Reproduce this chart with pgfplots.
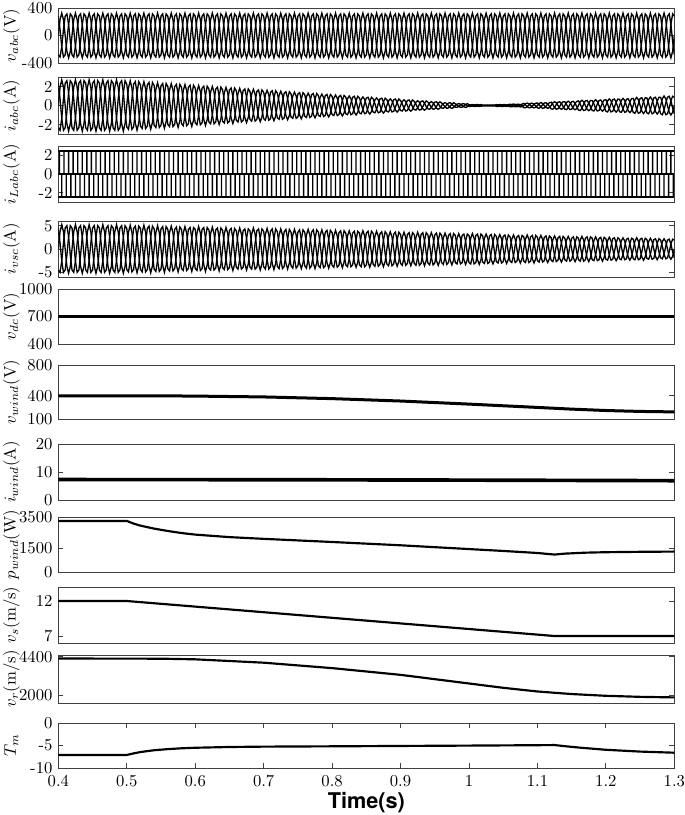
\documentclass[border=0pt]{standalone}
\usepackage{fontspec}
\newfontfamily\heros{TeX Gyre Heros}
\usepackage{pgfplots}
\pgfplotsset{compat=1.18}
\usepackage{pgfplotstable}

\pgfplotstableread{
t va vb vc ia ib ic sa sb sc
0.4 0 -281 281 0 -2.34 2.34 0 -4.5 4.5
0.4025 230 -314 84 1.91 -2.61 0.7 3.7 -5 1.3
0.405 325 -162 -162 2.7 -1.35 -1.35 5.2 -2.6 -2.6
0.4075 230 84 -314 1.91 0.7 -2.61 3.7 1.3 -5
0.41 0 281 -281 0 2.34 -2.34 0 4.5 -4.5
0.4125 -230 314 -84 -1.91 2.61 -0.7 -3.7 5 -1.3
0.415 -325 162 162 -2.7 1.35 1.35 -5.2 2.6 2.6
0.4175 -230 -84 314 -1.91 -0.7 2.61 -3.7 -1.3 5
0.42 0 -281 281 0 -2.34 2.34 0 -4.5 4.5
0.4225 230 -314 84 1.91 -2.61 0.7 3.7 -5 1.3
0.425 325 -162 -162 2.7 -1.35 -1.35 5.2 -2.6 -2.6
0.4275 230 84 -314 1.91 0.7 -2.61 3.7 1.3 -5
0.43 0 281 -281 0 2.34 -2.34 0 4.5 -4.5
0.4325 -230 314 -84 -1.91 2.61 -0.7 -3.7 5 -1.3
0.435 -325 162 162 -2.7 1.35 1.35 -5.2 2.6 2.6
0.4375 -230 -84 314 -1.91 -0.7 2.61 -3.7 -1.3 5
0.44 0 -281 281 0 -2.34 2.34 0 -4.5 4.5
0.4425 230 -314 84 1.91 -2.61 0.7 3.7 -5 1.3
0.445 325 -162 -162 2.7 -1.35 -1.35 5.2 -2.6 -2.6
0.4475 230 84 -314 1.91 0.7 -2.61 3.7 1.3 -5
0.45 0 281 -281 0 2.34 -2.34 0 4.5 -4.5
0.4525 -230 314 -84 -1.91 2.61 -0.7 -3.7 5 -1.3
0.455 -325 162 162 -2.7 1.35 1.35 -5.2 2.6 2.6
0.4575 -230 -84 314 -1.91 -0.7 2.61 -3.7 -1.3 5
0.46 0 -281 281 0 -2.34 2.34 0 -4.5 4.5
0.4625 230 -314 84 1.91 -2.61 0.7 3.7 -5 1.3
0.465 325 -162 -162 2.7 -1.35 -1.35 5.2 -2.6 -2.6
0.4675 230 84 -314 1.91 0.7 -2.61 3.7 1.3 -5
0.47 0 281 -281 0 2.34 -2.34 0 4.5 -4.5
0.4725 -230 314 -84 -1.91 2.61 -0.7 -3.7 5 -1.3
0.475 -325 162 162 -2.7 1.35 1.35 -5.2 2.6 2.6
0.4775 -230 -84 314 -1.91 -0.7 2.61 -3.7 -1.3 5
0.48 0 -281 281 0 -2.34 2.34 0 -4.5 4.5
0.4825 230 -314 84 1.91 -2.61 0.7 3.7 -5 1.3
0.485 325 -162 -162 2.7 -1.35 -1.35 5.2 -2.6 -2.6
0.4875 230 84 -314 1.91 0.7 -2.61 3.7 1.3 -5
0.49 0 281 -281 0 2.34 -2.34 0 4.5 -4.5
0.4925 -230 314 -84 -1.91 2.61 -0.7 -3.7 5 -1.3
0.495 -325 162 162 -2.7 1.35 1.35 -5.2 2.6 2.6
0.4975 -230 -84 314 -1.91 -0.7 2.61 -3.7 -1.3 5
0.5 0 -281 281 0 -2.25 2.25 0 -4.4 4.4
0.5025 230 -314 84 1.84 -2.51 0.67 3.6 -4.9 1.3
0.505 325 -162 -162 2.6 -1.3 -1.3 5.1 -2.6 -2.6
0.5075 230 84 -314 1.84 0.67 -2.51 3.6 1.3 -4.9
0.51 0 281 -281 0 2.25 -2.25 0 4.4 -4.4
0.5125 -230 314 -84 -1.84 2.51 -0.67 -3.6 4.9 -1.3
0.515 -325 162 162 -2.6 1.3 1.3 -5.1 2.6 2.6
0.5175 -230 -84 314 -1.84 -0.67 2.51 -3.6 -1.3 4.9
0.52 0 -281 281 0 -2.17 2.17 0 -4.4 4.4
0.5225 230 -314 84 1.77 -2.42 0.65 3.6 -4.9 1.3
0.525 325 -162 -162 2.5 -1.25 -1.25 5.1 -2.6 -2.6
0.5275 230 84 -314 1.77 0.65 -2.42 3.6 1.3 -4.9
0.53 0 281 -281 0 2.17 -2.17 0 4.4 -4.4
0.5325 -230 314 -84 -1.77 2.42 -0.65 -3.6 4.9 -1.3
0.535 -325 162 162 -2.5 1.25 1.25 -5.1 2.6 2.6
0.5375 -230 -84 314 -1.77 -0.65 2.42 -3.6 -1.3 4.9
0.54 0 -281 281 0 -2.08 2.08 0 -4.3 4.3
0.5425 230 -314 84 1.7 -2.32 0.62 3.5 -4.8 1.3
0.545 325 -162 -162 2.4 -1.2 -1.2 5 -2.5 -2.5
0.5475 230 84 -314 1.7 0.62 -2.32 3.5 1.3 -4.8
0.55 0 281 -281 0 2.08 -2.08 0 4.3 -4.3
0.5525 -230 314 -84 -1.7 2.32 -0.62 -3.5 4.8 -1.3
0.555 -325 162 162 -2.4 1.2 1.2 -5 2.5 2.5
0.5575 -230 -84 314 -1.7 -0.62 2.32 -3.5 -1.3 4.8
0.56 0 -281 281 0 -1.99 1.99 0 -4.2 4.2
0.5625 230 -314 84 1.63 -2.22 0.6 3.5 -4.7 1.3
0.565 325 -162 -162 2.3 -1.15 -1.15 4.9 -2.5 -2.5
0.5675 230 84 -314 1.63 0.6 -2.22 3.5 1.3 -4.7
0.57 0 281 -281 0 1.99 -1.99 0 4.2 -4.2
0.5725 -230 314 -84 -1.63 2.22 -0.6 -3.5 4.7 -1.3
0.575 -325 162 162 -2.3 1.15 1.15 -4.9 2.5 2.5
0.5775 -230 -84 314 -1.63 -0.6 2.22 -3.5 -1.3 4.7
0.58 0 -281 281 0 -1.91 1.91 0 -4.2 4.2
0.5825 230 -314 84 1.56 -2.13 0.57 3.4 -4.6 1.2
0.585 325 -162 -162 2.2 -1.1 -1.1 4.8 -2.4 -2.4
0.5875 230 84 -314 1.56 0.57 -2.13 3.4 1.2 -4.6
0.59 0 281 -281 0 1.91 -1.91 0 4.2 -4.2
0.5925 -230 314 -84 -1.56 2.13 -0.57 -3.4 4.6 -1.2
0.595 -325 162 162 -2.2 1.1 1.1 -4.8 2.4 2.4
0.5975 -230 -84 314 -1.56 -0.57 2.13 -3.4 -1.2 4.6
0.6 0 -281 281 0 -1.82 1.82 0 -4.2 4.2
0.6025 230 -314 84 1.48 -2.03 0.54 3.4 -4.6 1.2
0.605 325 -162 -162 2.1 -1.05 -1.05 4.8 -2.4 -2.4
0.6075 230 84 -314 1.48 0.54 -2.03 3.4 1.2 -4.6
0.61 0 281 -281 0 1.82 -1.82 0 4.2 -4.2
0.6125 -230 314 -84 -1.48 2.03 -0.54 -3.4 4.6 -1.2
0.615 -325 162 162 -2.1 1.05 1.05 -4.8 2.4 2.4
0.6175 -230 -84 314 -1.48 -0.54 2.03 -3.4 -1.2 4.6
0.62 0 -281 281 0 -1.73 1.73 0 -4.1 4.1
0.6225 230 -314 84 1.41 -1.93 0.52 3.3 -4.5 1.2
0.625 325 -162 -162 2 -1 -1 4.7 -2.4 -2.4
0.6275 230 84 -314 1.41 0.52 -1.93 3.3 1.2 -4.5
0.63 0 281 -281 0 1.73 -1.73 0 4.1 -4.1
0.6325 -230 314 -84 -1.41 1.93 -0.52 -3.3 4.5 -1.2
0.635 -325 162 162 -2 1 1 -4.7 2.4 2.4
0.6375 -230 -84 314 -1.41 -0.52 1.93 -3.3 -1.2 4.5
0.64 0 -281 281 0 -1.65 1.65 0 -4 4
0.6425 230 -314 84 1.34 -1.84 0.49 3.3 -4.4 1.2
0.645 325 -162 -162 1.9 -0.95 -0.95 4.6 -2.3 -2.3
0.6475 230 84 -314 1.34 0.49 -1.84 3.3 1.2 -4.4
0.65 0 281 -281 0 1.65 -1.65 0 4 -4
0.6525 -230 314 -84 -1.34 1.84 -0.49 -3.3 4.4 -1.2
0.655 -325 162 162 -1.9 0.95 0.95 -4.6 2.3 2.3
0.6575 -230 -84 314 -1.34 -0.49 1.84 -3.3 -1.2 4.4
0.66 0 -281 281 0 -1.56 1.56 0 -3.9 3.9
0.6625 230 -314 84 1.27 -1.74 0.47 3.2 -4.3 1.2
0.665 325 -162 -162 1.8 -0.9 -0.9 4.5 -2.3 -2.3
0.6675 230 84 -314 1.27 0.47 -1.74 3.2 1.2 -4.3
0.67 0 281 -281 0 1.56 -1.56 0 3.9 -3.9
0.6725 -230 314 -84 -1.27 1.74 -0.47 -3.2 4.3 -1.2
0.675 -325 162 162 -1.8 0.9 0.9 -4.5 2.3 2.3
0.6775 -230 -84 314 -1.27 -0.47 1.74 -3.2 -1.2 4.3
0.68 0 -281 281 0 -1.47 1.47 0 -3.9 3.9
0.6825 230 -314 84 1.2 -1.64 0.44 3.2 -4.3 1.2
0.685 325 -162 -162 1.7 -0.85 -0.85 4.5 -2.3 -2.3
0.6875 230 84 -314 1.2 0.44 -1.64 3.2 1.2 -4.3
0.69 0 281 -281 0 1.47 -1.47 0 3.9 -3.9
0.6925 -230 314 -84 -1.2 1.64 -0.44 -3.2 4.3 -1.2
0.695 -325 162 162 -1.7 0.85 0.85 -4.5 2.3 2.3
0.6975 -230 -84 314 -1.2 -0.44 1.64 -3.2 -1.2 4.3
0.7 0 -281 281 0 -1.39 1.39 0 -3.8 3.8
0.7025 230 -314 84 1.13 -1.55 0.41 3.1 -4.3 1.1
0.705 325 -162 -162 1.6 -0.8 -0.8 4.4 -2.2 -2.2
0.7075 230 84 -314 1.13 0.41 -1.55 3.1 1.1 -4.3
0.71 0 281 -281 0 1.39 -1.39 0 3.8 -3.8
0.7125 -230 314 -84 -1.13 1.55 -0.41 -3.1 4.3 -1.1
0.715 -325 162 162 -1.6 0.8 0.8 -4.4 2.2 2.2
0.7175 -230 -84 314 -1.13 -0.41 1.55 -3.1 -1.1 4.3
0.72 0 -281 281 0 -1.3 1.3 0 -3.7 3.7
0.7225 230 -314 84 1.06 -1.45 0.39 3 -4.2 1.1
0.725 325 -162 -162 1.5 -0.75 -0.75 4.3 -2.2 -2.2
0.7275 230 84 -314 1.06 0.39 -1.45 3 1.1 -4.2
0.73 0 281 -281 0 1.3 -1.3 0 3.7 -3.7
0.7325 -230 314 -84 -1.06 1.45 -0.39 -3 4.2 -1.1
0.735 -325 162 162 -1.5 0.75 0.75 -4.3 2.2 2.2
0.7375 -230 -84 314 -1.06 -0.39 1.45 -3 -1.1 4.2
0.74 0 -281 281 0 -1.21 1.21 0 -3.6 3.6
0.7425 230 -314 84 0.99 -1.35 0.36 3 -4.1 1.1
0.745 325 -162 -162 1.4 -0.7 -0.7 4.2 -2.1 -2.1
0.7475 230 84 -314 0.99 0.36 -1.35 3 1.1 -4.1
0.75 0 281 -281 0 1.21 -1.21 0 3.6 -3.6
0.7525 -230 314 -84 -0.99 1.35 -0.36 -3 4.1 -1.1
0.755 -325 162 162 -1.4 0.7 0.7 -4.2 2.1 2.1
0.7575 -230 -84 314 -0.99 -0.36 1.35 -3 -1.1 4.1
0.76 0 -281 281 0 -1.13 1.13 0 -3.6 3.6
0.7625 230 -314 84 0.92 -1.26 0.34 3 -4.1 1.1
0.765 325 -162 -162 1.3 -0.65 -0.65 4.2 -2.1 -2.1
0.7675 230 84 -314 0.92 0.34 -1.26 3 1.1 -4.1
0.77 0 281 -281 0 1.13 -1.13 0 3.6 -3.6
0.7725 -230 314 -84 -0.92 1.26 -0.34 -3 4.1 -1.1
0.775 -325 162 162 -1.3 0.65 0.65 -4.2 2.1 2.1
0.7775 -230 -84 314 -0.92 -0.34 1.26 -3 -1.1 4.1
0.78 0 -281 281 0 -1.04 1.04 0 -3.6 3.6
0.7825 230 -314 84 0.85 -1.16 0.31 2.9 -4 1.1
0.785 325 -162 -162 1.2 -0.6 -0.6 4.1 -2.1 -2.1
0.7875 230 84 -314 0.85 0.31 -1.16 2.9 1.1 -4
0.79 0 281 -281 0 1.04 -1.04 0 3.6 -3.6
0.7925 -230 314 -84 -0.85 1.16 -0.31 -2.9 4 -1.1
0.795 -325 162 162 -1.2 0.6 0.6 -4.1 2.1 2.1
0.7975 -230 -84 314 -0.85 -0.31 1.16 -2.9 -1.1 4
0.8 0 -281 281 0 -0.95 0.95 0 -3.5 3.5
0.8025 230 -314 84 0.78 -1.06 0.28 2.8 -3.9 1
0.805 325 -162 -162 1.1 -0.55 -0.55 4 -2 -2
0.8075 230 84 -314 0.78 0.28 -1.06 2.8 1 -3.9
0.81 0 281 -281 0 0.95 -0.95 0 3.5 -3.5
0.8125 -230 314 -84 -0.78 1.06 -0.28 -2.8 3.9 -1
0.815 -325 162 162 -1.1 0.55 0.55 -4 2 2
0.8175 -230 -84 314 -0.78 -0.28 1.06 -2.8 -1 3.9
0.82 0 -281 281 0 -0.87 0.87 0 -3.4 3.4
0.8225 230 -314 84 0.71 -0.97 0.26 2.8 -3.8 1
0.825 325 -162 -162 1 -0.5 -0.5 3.9 -2 -2
0.8275 230 84 -314 0.71 0.26 -0.97 2.8 1 -3.8
0.83 0 281 -281 0 0.87 -0.87 0 3.4 -3.4
0.8325 -230 314 -84 -0.71 0.97 -0.26 -2.8 3.8 -1
0.835 -325 162 162 -1 0.5 0.5 -3.9 2 2
0.8375 -230 -84 314 -0.71 -0.26 0.97 -2.8 -1 3.8
0.84 0 -281 281 0 -0.78 0.78 0 -3.4 3.4
0.8425 230 -314 84 0.64 -0.87 0.23 2.8 -3.8 1
0.845 325 -162 -162 0.9 -0.45 -0.45 3.9 -2 -2
0.8475 230 84 -314 0.64 0.23 -0.87 2.8 1 -3.8
0.85 0 281 -281 0 0.78 -0.78 0 3.4 -3.4
0.8525 -230 314 -84 -0.64 0.87 -0.23 -2.8 3.8 -1
0.855 -325 162 162 -0.9 0.45 0.45 -3.9 2 2
0.8575 -230 -84 314 -0.64 -0.23 0.87 -2.8 -1 3.8
0.86 0 -281 281 0 -0.69 0.69 0 -3.3 3.3
0.8625 230 -314 84 0.57 -0.77 0.21 2.7 -3.7 1
0.865 325 -162 -162 0.8 -0.4 -0.4 3.8 -1.9 -1.9
0.8675 230 84 -314 0.57 0.21 -0.77 2.7 1 -3.7
0.87 0 281 -281 0 0.69 -0.69 0 3.3 -3.3
0.8725 -230 314 -84 -0.57 0.77 -0.21 -2.7 3.7 -1
0.875 -325 162 162 -0.8 0.4 0.4 -3.8 1.9 1.9
0.8775 -230 -84 314 -0.57 -0.21 0.77 -2.7 -1 3.7
0.88 0 -281 281 0 -0.61 0.61 0 -3.2 3.2
0.8825 230 -314 84 0.49 -0.68 0.18 2.6 -3.6 1
0.885 325 -162 -162 0.7 -0.35 -0.35 3.7 -1.9 -1.9
0.8875 230 84 -314 0.49 0.18 -0.68 2.6 1 -3.6
0.89 0 281 -281 0 0.61 -0.61 0 3.2 -3.2
0.8925 -230 314 -84 -0.49 0.68 -0.18 -2.6 3.6 -1
0.895 -325 162 162 -0.7 0.35 0.35 -3.7 1.9 1.9
0.8975 -230 -84 314 -0.49 -0.18 0.68 -2.6 -1 3.6
0.9 0 -281 281 0 -0.52 0.52 0 -3.1 3.1
0.9025 230 -314 84 0.42 -0.58 0.16 2.5 -3.5 0.9
0.905 325 -162 -162 0.6 -0.3 -0.3 3.6 -1.8 -1.8
0.9075 230 84 -314 0.42 0.16 -0.58 2.5 0.9 -3.5
0.91 0 281 -281 0 0.52 -0.52 0 3.1 -3.1
0.9125 -230 314 -84 -0.42 0.58 -0.16 -2.5 3.5 -0.9
0.915 -325 162 162 -0.6 0.3 0.3 -3.6 1.8 1.8
0.9175 -230 -84 314 -0.42 -0.16 0.58 -2.5 -0.9 3.5
0.92 0 -281 281 0 -0.43 0.43 0 -3.1 3.1
0.9225 230 -314 84 0.35 -0.48 0.13 2.5 -3.5 0.9
0.925 325 -162 -162 0.5 -0.25 -0.25 3.6 -1.8 -1.8
0.9275 230 84 -314 0.35 0.13 -0.48 2.5 0.9 -3.5
0.93 0 281 -281 0 0.43 -0.43 0 3.1 -3.1
0.9325 -230 314 -84 -0.35 0.48 -0.13 -2.5 3.5 -0.9
0.935 -325 162 162 -0.5 0.25 0.25 -3.6 1.8 1.8
0.9375 -230 -84 314 -0.35 -0.13 0.48 -2.5 -0.9 3.5
0.94 0 -281 281 0 -0.35 0.35 0 -3 3
0.9425 230 -314 84 0.28 -0.39 0.1 2.5 -3.4 0.9
0.945 325 -162 -162 0.4 -0.2 -0.2 3.5 -1.8 -1.8
0.9475 230 84 -314 0.28 0.1 -0.39 2.5 0.9 -3.4
0.95 0 281 -281 0 0.35 -0.35 0 3 -3
0.9525 -230 314 -84 -0.28 0.39 -0.1 -2.5 3.4 -0.9
0.955 -325 162 162 -0.4 0.2 0.2 -3.5 1.8 1.8
0.9575 -230 -84 314 -0.28 -0.1 0.39 -2.5 -0.9 3.4
0.96 0 -281 281 0 -0.26 0.26 0 -2.9 2.9
0.9625 230 -314 84 0.21 -0.29 0.08 2.4 -3.3 0.9
0.965 325 -162 -162 0.3 -0.15 -0.15 3.4 -1.7 -1.7
0.9675 230 84 -314 0.21 0.08 -0.29 2.4 0.9 -3.3
0.97 0 281 -281 0 0.26 -0.26 0 2.9 -2.9
0.9725 -230 314 -84 -0.21 0.29 -0.08 -2.4 3.3 -0.9
0.975 -325 162 162 -0.3 0.15 0.15 -3.4 1.7 1.7
0.9775 -230 -84 314 -0.21 -0.08 0.29 -2.4 -0.9 3.3
0.98 0 -281 281 0 -0.17 0.17 0 -2.9 2.9
0.9825 230 -314 84 0.14 -0.19 0.05 2.3 -3.2 0.9
0.985 325 -162 -162 0.2 -0.1 -0.1 3.3 -1.7 -1.7
0.9875 230 84 -314 0.14 0.05 -0.19 2.3 0.9 -3.2
0.99 0 281 -281 0 0.17 -0.17 0 2.9 -2.9
0.9925 -230 314 -84 -0.14 0.19 -0.05 -2.3 3.2 -0.9
0.995 -325 162 162 -0.2 0.1 0.1 -3.3 1.7 1.7
0.9975 -230 -84 314 -0.14 -0.05 0.19 -2.3 -0.9 3.2
1 0 -281 281 0 -0.09 0.09 0 -2.9 2.9
1.0025 230 -314 84 0.07 -0.1 0.03 2.3 -3.2 0.9
1.005 325 -162 -162 0.1 -0.05 -0.05 3.3 -1.7 -1.7
1.0075 230 84 -314 0.07 0.03 -0.1 2.3 0.9 -3.2
1.01 0 281 -281 0 0.09 -0.09 0 2.9 -2.9
1.0125 -230 314 -84 -0.07 0.1 -0.03 -2.3 3.2 -0.9
1.015 -325 162 162 -0.1 0.05 0.05 -3.3 1.7 1.7
1.0175 -230 -84 314 -0.07 -0.03 0.1 -2.3 -0.9 3.2
1.02 0 -281 281 0 -0.04 0.04 0 -2.8 2.8
1.0225 230 -314 84 0.04 -0.05 0.01 2.3 -3.1 0.8
1.025 325 -162 -162 0.05 -0.03 -0.03 3.2 -1.6 -1.6
1.0275 230 84 -314 0.04 0.01 -0.05 2.3 0.8 -3.1
1.03 0 281 -281 0 0.04 -0.04 0 2.8 -2.8
1.0325 -230 314 -84 -0.04 0.05 -0.01 -2.3 3.1 -0.8
1.035 -325 162 162 -0.05 0.03 0.03 -3.2 1.6 1.6
1.0375 -230 -84 314 -0.04 -0.01 0.05 -2.3 -0.8 3.1
1.04 0 -281 281 0 -0.09 0.09 0 -2.7 2.7
1.0425 230 -314 84 0.07 -0.1 0.03 2.2 -3 0.8
1.045 325 -162 -162 0.1 -0.05 -0.05 3.1 -1.6 -1.6
1.0475 230 84 -314 0.07 0.03 -0.1 2.2 0.8 -3
1.05 0 281 -281 0 0.09 -0.09 0 2.7 -2.7
1.0525 -230 314 -84 -0.07 0.1 -0.03 -2.2 3 -0.8
1.055 -325 162 162 -0.1 0.05 0.05 -3.1 1.6 1.6
1.0575 -230 -84 314 -0.07 -0.03 0.1 -2.2 -0.8 3
1.06 0 -281 281 0 -0.13 0.13 0 -2.6 2.6
1.0625 230 -314 84 0.11 -0.14 0.04 2.1 -2.9 0.8
1.065 325 -162 -162 0.15 -0.08 -0.08 3 -1.5 -1.5
1.0675 230 84 -314 0.11 0.04 -0.14 2.1 0.8 -2.9
1.07 0 281 -281 0 0.13 -0.13 0 2.6 -2.6
1.0725 -230 314 -84 -0.11 0.14 -0.04 -2.1 2.9 -0.8
1.075 -325 162 162 -0.15 0.08 0.08 -3 1.5 1.5
1.0775 -230 -84 314 -0.11 -0.04 0.14 -2.1 -0.8 2.9
1.08 0 -281 281 0 -0.22 0.22 0 -2.6 2.6
1.0825 230 -314 84 0.18 -0.24 0.06 2.1 -2.9 0.8
1.085 325 -162 -162 0.25 -0.13 -0.13 3 -1.5 -1.5
1.0875 230 84 -314 0.18 0.06 -0.24 2.1 0.8 -2.9
1.09 0 281 -281 0 0.22 -0.22 0 2.6 -2.6
1.0925 -230 314 -84 -0.18 0.24 -0.06 -2.1 2.9 -0.8
1.095 -325 162 162 -0.25 0.13 0.13 -3 1.5 1.5
1.0975 -230 -84 314 -0.18 -0.06 0.24 -2.1 -0.8 2.9
1.1 0 -281 281 0 -0.26 0.26 0 -2.5 2.5
1.1025 230 -314 84 0.21 -0.29 0.08 2.1 -2.8 0.8
1.105 325 -162 -162 0.3 -0.15 -0.15 2.9 -1.5 -1.5
1.1075 230 84 -314 0.21 0.08 -0.29 2.1 0.8 -2.8
1.11 0 281 -281 0 0.26 -0.26 0 2.5 -2.5
1.1125 -230 314 -84 -0.21 0.29 -0.08 -2.1 2.8 -0.8
1.115 -325 162 162 -0.3 0.15 0.15 -2.9 1.5 1.5
1.1175 -230 -84 314 -0.21 -0.08 0.29 -2.1 -0.8 2.8
1.12 0 -281 281 0 -0.35 0.35 0 -2.4 2.4
1.1225 230 -314 84 0.28 -0.39 0.1 2 -2.7 0.7
1.125 325 -162 -162 0.4 -0.2 -0.2 2.8 -1.4 -1.4
1.1275 230 84 -314 0.28 0.1 -0.39 2 0.7 -2.7
1.13 0 281 -281 0 0.35 -0.35 0 2.4 -2.4
1.1325 -230 314 -84 -0.28 0.39 -0.1 -2 2.7 -0.7
1.135 -325 162 162 -0.4 0.2 0.2 -2.8 1.4 1.4
1.1375 -230 -84 314 -0.28 -0.1 0.39 -2 -0.7 2.7
1.14 0 -281 281 0 -0.39 0.39 0 -2.3 2.3
1.1425 230 -314 84 0.32 -0.43 0.12 1.9 -2.6 0.7
1.145 325 -162 -162 0.45 -0.23 -0.23 2.7 -1.4 -1.4
1.1475 230 84 -314 0.32 0.12 -0.43 1.9 0.7 -2.6
1.15 0 281 -281 0 0.39 -0.39 0 2.3 -2.3
1.1525 -230 314 -84 -0.32 0.43 -0.12 -1.9 2.6 -0.7
1.155 -325 162 162 -0.45 0.23 0.23 -2.7 1.4 1.4
1.1575 -230 -84 314 -0.32 -0.12 0.43 -1.9 -0.7 2.6
1.16 0 -281 281 0 -0.48 0.48 0 -2.3 2.3
1.1625 230 -314 84 0.39 -0.53 0.14 1.9 -2.6 0.7
1.165 325 -162 -162 0.55 -0.28 -0.28 2.7 -1.4 -1.4
1.1675 230 84 -314 0.39 0.14 -0.53 1.9 0.7 -2.6
1.17 0 281 -281 0 0.48 -0.48 0 2.3 -2.3
1.1725 -230 314 -84 -0.39 0.53 -0.14 -1.9 2.6 -0.7
1.175 -325 162 162 -0.55 0.28 0.28 -2.7 1.4 1.4
1.1775 -230 -84 314 -0.39 -0.14 0.53 -1.9 -0.7 2.6
1.18 0 -281 281 0 -0.52 0.52 0 -2.3 2.3
1.1825 230 -314 84 0.42 -0.58 0.16 1.8 -2.5 0.7
1.185 325 -162 -162 0.6 -0.3 -0.3 2.6 -1.3 -1.3
1.1875 230 84 -314 0.42 0.16 -0.58 1.8 0.7 -2.5
1.19 0 281 -281 0 0.52 -0.52 0 2.3 -2.3
1.1925 -230 314 -84 -0.42 0.58 -0.16 -1.8 2.5 -0.7
1.195 -325 162 162 -0.6 0.3 0.3 -2.6 1.3 1.3
1.1975 -230 -84 314 -0.42 -0.16 0.58 -1.8 -0.7 2.5
1.2 0 -281 281 0 -0.61 0.61 0 -2.2 2.2
1.2025 230 -314 84 0.49 -0.68 0.18 1.8 -2.4 0.6
1.205 325 -162 -162 0.7 -0.35 -0.35 2.5 -1.3 -1.3
1.2075 230 84 -314 0.49 0.18 -0.68 1.8 0.6 -2.4
1.21 0 281 -281 0 0.61 -0.61 0 2.2 -2.2
1.2125 -230 314 -84 -0.49 0.68 -0.18 -1.8 2.4 -0.6
1.215 -325 162 162 -0.7 0.35 0.35 -2.5 1.3 1.3
1.2175 -230 -84 314 -0.49 -0.18 0.68 -1.8 -0.6 2.4
1.22 0 -281 281 0 -0.65 0.65 0 -2.1 2.1
1.2225 230 -314 84 0.53 -0.72 0.19 1.7 -2.3 0.6
1.225 325 -162 -162 0.75 -0.38 -0.38 2.4 -1.2 -1.2
1.2275 230 84 -314 0.53 0.19 -0.72 1.7 0.6 -2.3
1.23 0 281 -281 0 0.65 -0.65 0 2.1 -2.1
1.2325 -230 314 -84 -0.53 0.72 -0.19 -1.7 2.3 -0.6
1.235 -325 162 162 -0.75 0.38 0.38 -2.4 1.2 1.2
1.2375 -230 -84 314 -0.53 -0.19 0.72 -1.7 -0.6 2.3
1.24 0 -281 281 0 -0.74 0.74 0 -2.1 2.1
1.2425 230 -314 84 0.6 -0.82 0.22 1.7 -2.3 0.6
1.245 325 -162 -162 0.85 -0.43 -0.43 2.4 -1.2 -1.2
1.2475 230 84 -314 0.6 0.22 -0.82 1.7 0.6 -2.3
1.25 0 281 -281 0 0.74 -0.74 0 2.1 -2.1
1.2525 -230 314 -84 -0.6 0.82 -0.22 -1.7 2.3 -0.6
1.255 -325 162 162 -0.85 0.43 0.43 -2.4 1.2 1.2
1.2575 -230 -84 314 -0.6 -0.22 0.82 -1.7 -0.6 2.3
1.26 0 -281 281 0 -0.78 0.78 0 -2 2
1.2625 230 -314 84 0.64 -0.87 0.23 1.6 -2.2 0.6
1.265 325 -162 -162 0.9 -0.45 -0.45 2.3 -1.2 -1.2
1.2675 230 84 -314 0.64 0.23 -0.87 1.6 0.6 -2.2
1.27 0 281 -281 0 0.78 -0.78 0 2 -2
1.2725 -230 314 -84 -0.64 0.87 -0.23 -1.6 2.2 -0.6
1.275 -325 162 162 -0.9 0.45 0.45 -2.3 1.2 1.2
1.2775 -230 -84 314 -0.64 -0.23 0.87 -1.6 -0.6 2.2
1.28 0 -281 281 0 -0.87 0.87 0 -1.9 1.9
1.2825 230 -314 84 0.71 -0.97 0.26 1.6 -2.1 0.6
1.285 325 -162 -162 1 -0.5 -0.5 2.2 -1.1 -1.1
1.2875 230 84 -314 0.71 0.26 -0.97 1.6 0.6 -2.1
1.29 0 281 -281 0 0.87 -0.87 0 1.9 -1.9
1.2925 -230 314 -84 -0.71 0.97 -0.26 -1.6 2.1 -0.6
1.295 -325 162 162 -1 0.5 0.5 -2.2 1.1 1.1
1.2975 -230 -84 314 -0.71 -0.26 0.97 -1.6 -0.6 2.1
1.3 0 -281 281 0 -0.87 0.87 0 -1.9 1.9
}\wavetab

\begin{document}
\begin{tikzpicture}
\pgfplotsset{
 panel/.style={scale only axis, width=369.6pt, anchor=north west,
   xmin=0.4, xmax=1.3, xtick=\empty, tick align=inside, major tick length=3pt,
   axis line style={black!75, line width=0.5pt},
   every tick/.append style={black!75, line width=0.5pt},
   ylabel style={at={(axis description cs:-0.076,0.5)}, anchor=center},
   clip=true},
 wv/.style={black, line width=0.8pt},
 cv/.style={black, line width=1.3pt},
}
% 1 v_abc
\begin{axis}[panel, at={(0pt,-4.8pt)}, height=33pt, ymin=-400, ymax=400,
  ytick={-400,0,400}, yticklabels={-400,0,400}, ylabel={$v_{abc}$(V)}]
\addplot[wv] table[x=t,y=va]{\wavetab};
\addplot[wv] table[x=t,y=vb]{\wavetab};
\addplot[wv] table[x=t,y=vc]{\wavetab};
\end{axis}
% 2 i_abc
\begin{axis}[panel, at={(0pt,-46.2pt)}, height=34.2pt, ymin=-3, ymax=3,
  ytick={-2,0,2}, yticklabels={-2,0,2}, ylabel={$i_{abc}$(A)}]
\addplot[wv] table[x=t,y=ia]{\wavetab};
\addplot[wv] table[x=t,y=ib]{\wavetab};
\addplot[wv] table[x=t,y=ic]{\wavetab};
\end{axis}
% 3 i_Labc
\begin{axis}[panel, at={(0pt,-87.6pt)}, height=33.6pt, ymin=-3, ymax=3,
  ytick={-2,0,2}, yticklabels={-2,0,2}, ylabel={$i_{Labc}$(A)}]
\addplot[wv] coordinates {(0.4,2.45)(1.3,2.45)};
\addplot[wv] coordinates {(0.4,0)(1.3,0)};
\addplot[wv] coordinates {(0.4,-2.45)(1.3,-2.45)};
\addplot[ybar, bar width=0.8pt, fill=black, draw=none] coordinates {
(0.40167,2.45)(0.405,-2.45)(0.40833,2.45)(0.41167,-2.45)(0.415,2.45)(0.41833,-2.45)
(0.42167,2.45)(0.425,-2.45)(0.42833,2.45)(0.43167,-2.45)(0.435,2.45)(0.43833,-2.45)
(0.44167,2.45)(0.445,-2.45)(0.44833,2.45)(0.45167,-2.45)(0.455,2.45)(0.45833,-2.45)
(0.46167,2.45)(0.465,-2.45)(0.46833,2.45)(0.47167,-2.45)(0.475,2.45)(0.47833,-2.45)
(0.48167,2.45)(0.485,-2.45)(0.48833,2.45)(0.49167,-2.45)(0.495,2.45)(0.49833,-2.45)
(0.50167,2.45)(0.505,-2.45)(0.50833,2.45)(0.51167,-2.45)(0.515,2.45)(0.51833,-2.45)
(0.52167,2.45)(0.525,-2.45)(0.52833,2.45)(0.53167,-2.45)(0.535,2.45)(0.53833,-2.45)
(0.54167,2.45)(0.545,-2.45)(0.54833,2.45)(0.55167,-2.45)(0.555,2.45)(0.55833,-2.45)
(0.56167,2.45)(0.565,-2.45)(0.56833,2.45)(0.57167,-2.45)(0.575,2.45)(0.57833,-2.45)
(0.58167,2.45)(0.585,-2.45)(0.58833,2.45)(0.59167,-2.45)(0.595,2.45)(0.59833,-2.45)
(0.60167,2.45)(0.605,-2.45)(0.60833,2.45)(0.61167,-2.45)(0.615,2.45)(0.61833,-2.45)
(0.62167,2.45)(0.625,-2.45)(0.62833,2.45)(0.63167,-2.45)(0.635,2.45)(0.63833,-2.45)
(0.64167,2.45)(0.645,-2.45)(0.64833,2.45)(0.65167,-2.45)(0.655,2.45)(0.65833,-2.45)
(0.66167,2.45)(0.665,-2.45)(0.66833,2.45)(0.67167,-2.45)(0.675,2.45)(0.67833,-2.45)
(0.68167,2.45)(0.685,-2.45)(0.68833,2.45)(0.69167,-2.45)(0.695,2.45)(0.69833,-2.45)
(0.70167,2.45)(0.705,-2.45)(0.70833,2.45)(0.71167,-2.45)(0.715,2.45)(0.71833,-2.45)
(0.72167,2.45)(0.725,-2.45)(0.72833,2.45)(0.73167,-2.45)(0.735,2.45)(0.73833,-2.45)
(0.74167,2.45)(0.745,-2.45)(0.74833,2.45)(0.75167,-2.45)(0.755,2.45)(0.75833,-2.45)
(0.76167,2.45)(0.765,-2.45)(0.76833,2.45)(0.77167,-2.45)(0.775,2.45)(0.77833,-2.45)
(0.78167,2.45)(0.785,-2.45)(0.78833,2.45)(0.79167,-2.45)(0.795,2.45)(0.79833,-2.45)
(0.80167,2.45)(0.805,-2.45)(0.80833,2.45)(0.81167,-2.45)(0.815,2.45)(0.81833,-2.45)
(0.82167,2.45)(0.825,-2.45)(0.82833,2.45)(0.83167,-2.45)(0.835,2.45)(0.83833,-2.45)
(0.84167,2.45)(0.845,-2.45)(0.84833,2.45)(0.85167,-2.45)(0.855,2.45)(0.85833,-2.45)
(0.86167,2.45)(0.865,-2.45)(0.86833,2.45)(0.87167,-2.45)(0.875,2.45)(0.87833,-2.45)
(0.88167,2.45)(0.885,-2.45)(0.88833,2.45)(0.89167,-2.45)(0.895,2.45)(0.89833,-2.45)
(0.90167,2.45)(0.905,-2.45)(0.90833,2.45)(0.91167,-2.45)(0.915,2.45)(0.91833,-2.45)
(0.92167,2.45)(0.925,-2.45)(0.92833,2.45)(0.93167,-2.45)(0.935,2.45)(0.93833,-2.45)
(0.94167,2.45)(0.945,-2.45)(0.94833,2.45)(0.95167,-2.45)(0.955,2.45)(0.95833,-2.45)
(0.96167,2.45)(0.965,-2.45)(0.96833,2.45)(0.97167,-2.45)(0.975,2.45)(0.97833,-2.45)
(0.98167,2.45)(0.985,-2.45)(0.98833,2.45)(0.99167,-2.45)(0.995,2.45)(0.99833,-2.45)
(1.00167,2.45)(1.005,-2.45)(1.00833,2.45)(1.01167,-2.45)(1.015,2.45)(1.01833,-2.45)
(1.02167,2.45)(1.025,-2.45)(1.02833,2.45)(1.03167,-2.45)(1.035,2.45)(1.03833,-2.45)
(1.04167,2.45)(1.045,-2.45)(1.04833,2.45)(1.05167,-2.45)(1.055,2.45)(1.05833,-2.45)
(1.06167,2.45)(1.065,-2.45)(1.06833,2.45)(1.07167,-2.45)(1.075,2.45)(1.07833,-2.45)
(1.08167,2.45)(1.085,-2.45)(1.08833,2.45)(1.09167,-2.45)(1.095,2.45)(1.09833,-2.45)
(1.10167,2.45)(1.105,-2.45)(1.10833,2.45)(1.11167,-2.45)(1.115,2.45)(1.11833,-2.45)
(1.12167,2.45)(1.125,-2.45)(1.12833,2.45)(1.13167,-2.45)(1.135,2.45)(1.13833,-2.45)
(1.14167,2.45)(1.145,-2.45)(1.14833,2.45)(1.15167,-2.45)(1.155,2.45)(1.15833,-2.45)
(1.16167,2.45)(1.165,-2.45)(1.16833,2.45)(1.17167,-2.45)(1.175,2.45)(1.17833,-2.45)
(1.18167,2.45)(1.185,-2.45)(1.18833,2.45)(1.19167,-2.45)(1.195,2.45)(1.19833,-2.45)
(1.20167,2.45)(1.205,-2.45)(1.20833,2.45)(1.21167,-2.45)(1.215,2.45)(1.21833,-2.45)
(1.22167,2.45)(1.225,-2.45)(1.22833,2.45)(1.23167,-2.45)(1.235,2.45)(1.23833,-2.45)
(1.24167,2.45)(1.245,-2.45)(1.24833,2.45)(1.25167,-2.45)(1.255,2.45)(1.25833,-2.45)
(1.26167,2.45)(1.265,-2.45)(1.26833,2.45)(1.27167,-2.45)(1.275,2.45)(1.27833,-2.45)
(1.28167,2.45)(1.285,-2.45)(1.28833,2.45)(1.29167,-2.45)(1.295,2.45)(1.29833,-2.45)
};
\end{axis}
% 4 i_vsc
\begin{axis}[panel, at={(0pt,-132.6pt)}, height=33.6pt, ymin=-6, ymax=6,
  ytick={-5,0,5}, yticklabels={-5,0,5}, ylabel={$i_{vsc}$(A)}]
\addplot[wv] table[x=t,y=sa]{\wavetab};
\addplot[wv] table[x=t,y=sb]{\wavetab};
\addplot[wv] table[x=t,y=sc]{\wavetab};
\end{axis}
% 5 v_dc
\begin{axis}[panel, at={(0pt,-173.4pt)}, height=33pt, ymin=400, ymax=1000,
  ytick={400,700,1000}, yticklabels={400,700,1000}, ylabel={$v_{dc}$(V)}]
\addplot[cv] coordinates {(0.4,700)(1.3,700)};
\end{axis}
% 6 v_wind
\begin{axis}[panel, at={(0pt,-219pt)}, height=32.4pt, ymin=100, ymax=800,
  ytick={100,400,800}, yticklabels={100,400,800}, ylabel={$v_{wind}$(V)}]
\addplot[black, line width=1.8pt] coordinates {(0.4,400)(0.55,400)(0.6,397)(0.7,386)(0.8,364)(0.9,333)(1.0,293)(1.1,250)(1.15,228)(1.2,210)(1.25,198)(1.3,192)};
\end{axis}
% 7 i_wind
\begin{axis}[panel, at={(0pt,-266.4pt)}, height=33.6pt, ymin=0, ymax=20,
  ytick={0,10,20}, yticklabels={0,10,20}, ylabel={$i_{wind}$(A)}]
\addplot[black, line width=2.2pt] coordinates {(0.4,7.3)(0.7,7.25)(1.0,7.1)(1.3,6.9)};
\end{axis}
% 8 p_wind
\begin{axis}[panel, at={(0pt,-310.2pt)}, height=33pt, ymin=0, ymax=3500,
  ytick={0,1500,3500}, yticklabels={0,1500,3500}, ylabel={$p_{wind}$(W)}]
\addplot[cv] coordinates {(0.4,3250)(0.5,3250)(0.51,3080)(0.52,2950)(0.54,2760)(0.56,2610)(0.58,2480)(0.6,2380)(0.65,2220)(0.7,2110)(0.8,1910)(0.9,1700)(1.0,1460)(1.05,1340)(1.1,1210)(1.125,1110)(1.14,1170)(1.17,1230)(1.2,1260)(1.25,1285)(1.3,1300)};
\end{axis}
% 9 v_s
\begin{axis}[panel, at={(0pt,-352.2pt)}, height=33.6pt, ymin=6, ymax=14,
  ytick={7,12}, yticklabels={7,12}, ylabel={$v_s$(m/s)}]
\addplot[cv] coordinates {(0.4,12)(0.5,12)(1.125,7)(1.3,7)};
\end{axis}
% 10 v_r
\begin{axis}[panel, at={(0pt,-393pt)}, height=28.8pt, ymin=1500, ymax=4500,
  ytick={2000,4400}, yticklabels={2000,4400}, ylabel={$v_r$(m/s)}]
\addplot[cv] coordinates {(0.4,4280)(0.55,4270)(0.6,4230)(0.7,4020)(0.8,3680)(0.9,3260)(1.0,2720)(1.05,2450)(1.1,2220)(1.15,2060)(1.2,1950)(1.25,1885)(1.3,1850)};
\end{axis}
% 11 T_m
\begin{axis}[panel, at={(0pt,-433.8pt)}, height=27pt, ymin=-10, ymax=0,
  ytick={-10,-5,0}, yticklabels={-10,-5,0}, ylabel={$T_m$},
  xtick={0.4,0.5,0.6,0.7,0.8,0.9,1,1.1,1.2,1.3},
  xticklabels={0.4,0.5,0.6,0.7,0.8,0.9,1,1.1,1.2,1.3},
  xticklabel style={yshift=-1pt},
  xlabel={\heros\bfseries\fontsize{13}{15}\selectfont Time(s)},
  xlabel style={yshift=3.5pt}]
\addplot[cv] coordinates {(0.4,-7.1)(0.5,-7.1)(0.51,-6.75)(0.52,-6.45)(0.54,-6.05)(0.56,-5.8)(0.58,-5.62)(0.6,-5.5)(0.65,-5.33)(0.7,-5.25)(0.8,-5.18)(0.9,-5.1)(1.0,-5.02)(1.1,-4.93)(1.125,-4.9)(1.14,-5.15)(1.16,-5.45)(1.2,-5.95)(1.25,-6.35)(1.3,-6.6)};
\end{axis}
\pgfresetboundingbox
\path[use as bounding box] (-35pt,0pt) rectangle (376pt,-489pt);
\end{tikzpicture}
\end{document}
